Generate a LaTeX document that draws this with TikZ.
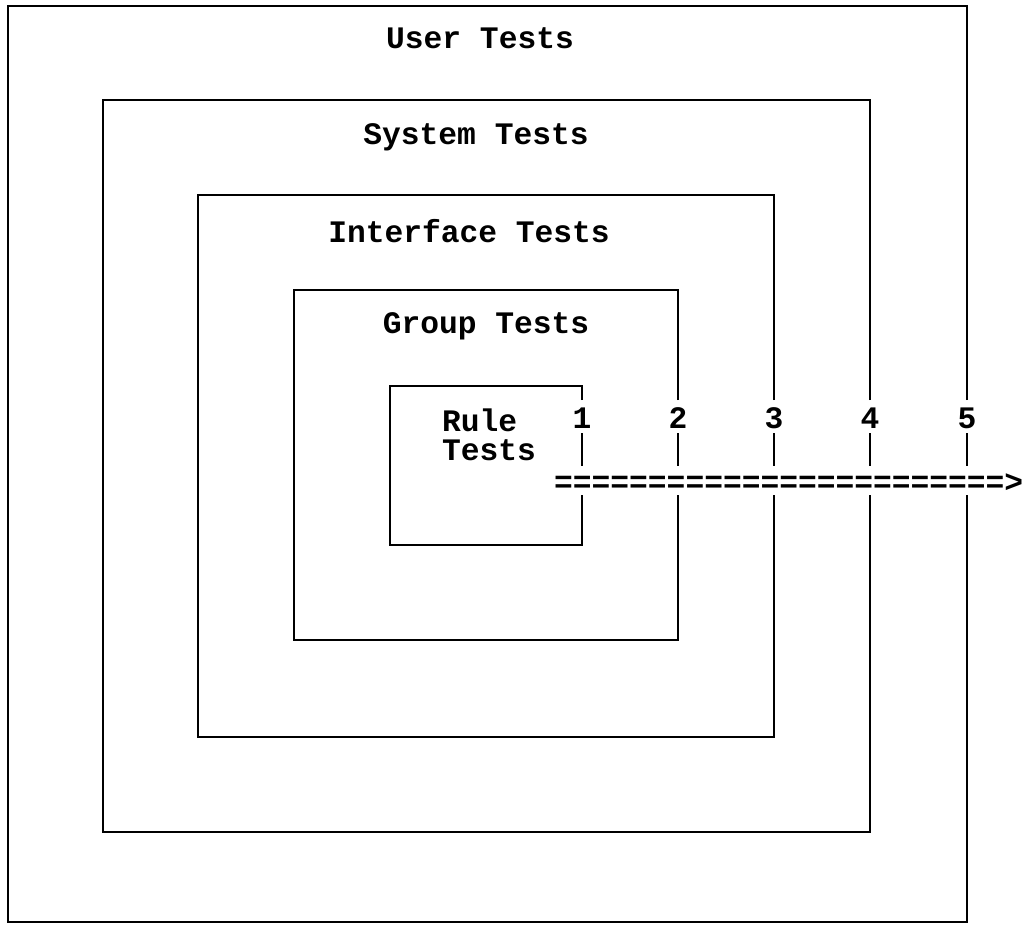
\documentclass[tikz,border=0pt]{standalone}
\usepackage{fontspec}
\setmonofont{Liberation Mono}
\tikzset{
  lbl/.style={font=\ttfamily\bfseries\fontsize{17.8}{16.4}\selectfont, inner sep=0pt},
}
\begin{document}
\begin{tikzpicture}[x=0.02cm,y=-0.02cm,line width=1.3pt]
\useasboundingbox (0,0) rectangle (1027,926);

% nested boxes, right sides open where the numbers and the arrow pass
\draw (967,400) -- (967,6) -- (8,6) -- (8,922) -- (967,922) -- (967,495);
\draw (870,400) -- (870,100) -- (103,100) -- (103,832) -- (870,832) -- (870,495);
\draw (774,400) -- (774,195) -- (198,195) -- (198,737) -- (774,737) -- (774,495);
\draw (678,400) -- (678,290) -- (294,290) -- (294,640) -- (678,640) -- (678,495);
\draw (582,400) -- (582,386) -- (390,386) -- (390,545) -- (582,545) -- (582,495);

\node[lbl] (user) at (480,38) {User Tests};
\node[lbl] (system) at (476,137) {System Tests};
\node[lbl] (interface) at (469,231) {Interface Tests};
\node[lbl] (group) at (486,326) {Group Tests};
\node[lbl,align=left,anchor=west] (rule) at (441,435) {Rule\\Tests};

\node[lbl] (n1) at (582,418) {1};
\node[lbl] (n2) at (678,418) {2};
\node[lbl] (n3) at (774,418) {3};
\node[lbl] (n4) at (870,418) {4};
\node[lbl] (n5) at (967,418) {5};

\draw (582,433) -- (582,466);
\draw (678,433) -- (678,466);
\draw (774,433) -- (774,466);
\draw (870,433) -- (870,466);
\draw (967,433) -- (967,466);

\node[lbl,anchor=west] (arrow) at (553,483) {========================>};
\end{tikzpicture}
\end{document}
